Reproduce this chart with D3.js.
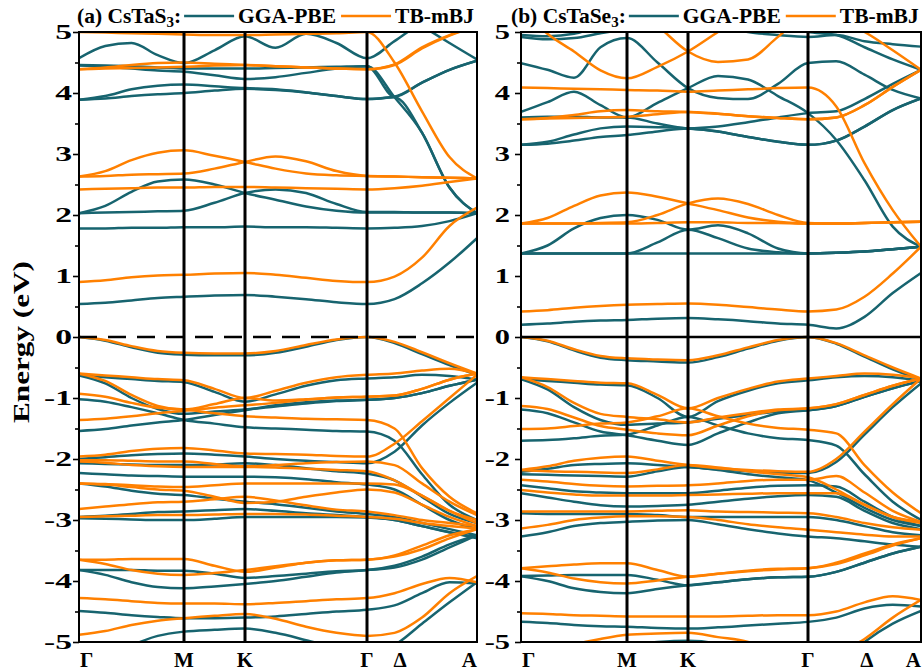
<!DOCTYPE html>
<html>
<head>
<meta charset="utf-8">
<script src="https://cdn.jsdelivr.net/npm/d3@7"></script>
<style>
  body { margin: 0; background: #fff; }
  svg { display: block; }
  text { font-family: "Liberation Serif", "Times New Roman", serif; font-weight: bold; fill: #000; }
</style>
</head>
<body>
<svg id="chart" width="922" height="672"></svg>
<script>
// k-path sample positions: Γ=0, M=1, K=2, Γ=3, A=4
const kGrid = [0, 0.25, 0.5, 0.75, 1, 1.5, 2, 2.25, 2.5, 2.75, 3, 3.25, 3.5, 3.75, 4];
const kNodeLabels = ["Γ", "M", "K", "Γ", "A"];
const energyTicks = [-5, -4, -3, -2, -1, 0, 1, 2, 3, 4, 5];
const energyMinorTicks = [-4.5, -3.5, -2.5, -1.5, -0.5, 0.5, 1.5, 2.5, 3.5, 4.5];

// CsTaS3, GGA-PBE bands (eV) on kGrid
const csTaS3Gga = [
  [0.54,0.56,0.60,0.64,0.66,0.68,0.69,0.66,0.62,0.57,0.54,0.62,0.88,1.22,1.62],
  [1.78,1.78,1.79,1.79,1.80,1.80,1.81,1.80,1.80,1.79,1.78,1.79,1.82,1.90,2.03],
  [2.03,2.15,2.38,2.55,2.58,2.50,2.36,2.25,2.14,2.07,2.04,2.04,2.04,2.04,2.03],
  [2.03,2.04,2.05,2.06,2.07,2.20,2.36,2.42,2.36,2.18,2.05,2.05,2.04,2.04,2.03],
  [3.89,3.91,3.95,3.98,4.00,4.04,4.07,4.05,4.01,3.95,3.90,3.94,4.17,4.38,4.53],
  [3.89,3.95,4.06,4.12,4.14,4.11,4.08,4.06,4.01,3.95,3.90,3.93,3.35,2.45,2.03],
  [4.45,4.43,4.40,4.37,4.35,4.29,4.23,4.26,4.33,4.40,4.44,3.94,4.17,4.38,4.53],
  [4.46,4.45,4.44,4.42,4.40,4.40,4.40,4.41,4.42,4.43,4.44,3.93,3.35,2.45,2.03],
  [4.57,4.77,4.82,4.62,4.49,4.70,4.93,4.74,4.97,4.82,4.57,4.85,5.15,5.30,5.30],
  [5.40,5.40,5.40,5.40,5.40,5.40,5.40,5.40,5.40,5.40,5.40,5.40,5.10,4.82,4.55],
  [0.00,-0.06,-0.17,-0.26,-0.29,-0.30,-0.30,-0.26,-0.16,-0.05,0.00,-0.10,-0.28,-0.46,-0.62],
  [-0.63,-0.66,-0.69,-0.72,-0.74,-0.90,-1.06,-0.94,-0.80,-0.71,-0.68,-0.66,-0.62,-0.64,-0.70],
  [-0.63,-0.76,-1.00,-1.18,-1.26,-1.22,-1.19,-1.14,-1.09,-1.05,-1.03,-1.00,-0.92,-0.80,-0.70],
  [-1.02,-1.06,-1.15,-1.25,-1.36,-1.42,-1.48,-1.50,-1.52,-1.54,-1.55,-1.70,-2.25,-2.75,-3.00],
  [-1.54,-1.51,-1.45,-1.40,-1.36,-1.28,-1.20,-1.12,-1.07,-1.04,-1.03,-1.00,-0.92,-0.80,-0.70],
  [-2.00,-1.97,-1.94,-1.92,-1.91,-1.93,-1.96,-2.00,-2.03,-2.05,-2.07,-1.88,-1.45,-1.08,-0.75],
  [-2.07,-2.08,-2.09,-2.10,-2.10,-2.09,-2.07,-2.10,-2.15,-2.20,-2.24,-2.35,-2.62,-2.90,-3.05],
  [-2.23,-2.25,-2.27,-2.28,-2.29,-2.29,-2.29,-2.30,-2.33,-2.38,-2.42,-2.50,-2.75,-3.00,-3.15],
  [-2.40,-2.45,-2.52,-2.57,-2.59,-2.65,-2.70,-2.74,-2.80,-2.86,-2.90,-2.95,-3.05,-3.15,-3.25],
  [-2.95,-2.93,-2.90,-2.87,-2.86,-2.84,-2.82,-2.85,-2.89,-2.92,-2.95,-3.00,-3.10,-3.20,-3.28],
  [-2.97,-2.98,-2.99,-3.00,-3.00,-2.98,-2.95,-2.95,-2.95,-2.95,-2.96,-3.00,-3.10,-3.20,-3.30],
  [-3.82,-3.82,-3.82,-3.83,-3.83,-3.88,-3.95,-3.92,-3.88,-3.84,-3.82,-3.75,-3.60,-3.40,-3.25],
  [-3.82,-3.90,-4.02,-4.10,-4.12,-4.09,-4.05,-4.00,-3.93,-3.86,-3.82,-3.78,-3.65,-3.45,-3.25],
  [-4.49,-4.52,-4.56,-4.59,-4.61,-4.61,-4.60,-4.58,-4.54,-4.50,-4.47,-4.40,-4.20,-4.02,-4.04],
  [-5.30,-5.20,-5.05,-4.90,-4.83,-4.80,-4.78,-4.85,-4.97,-5.10,-5.20,-5.05,-4.70,-4.35,-4.02]
];

// CsTaS3, TB-mBJ bands (eV)
const csTaS3Mbj = [
  [0.90,0.93,0.98,1.01,1.02,1.04,1.05,1.02,0.97,0.92,0.90,0.99,1.30,1.82,2.12],
  [2.42,2.43,2.44,2.45,2.45,2.46,2.46,2.45,2.44,2.43,2.42,2.44,2.48,2.54,2.60],
  [2.63,2.72,2.90,3.02,3.06,2.97,2.87,2.76,2.68,2.65,2.64,2.63,2.62,2.61,2.60],
  [2.63,2.64,2.66,2.67,2.68,2.76,2.87,2.96,2.88,2.72,2.64,2.63,2.62,2.61,2.60],
  [4.39,4.42,4.46,4.49,4.50,4.48,4.46,4.44,4.42,4.40,4.39,4.47,4.75,4.95,5.10],
  [4.39,4.40,4.41,4.42,4.43,4.45,4.46,4.44,4.42,4.40,4.39,4.46,4.73,4.94,5.10],
  [5.00,4.99,4.98,4.97,4.96,4.95,4.95,4.96,4.97,4.98,5.00,4.50,3.70,2.95,2.60],
  [0.00,-0.05,-0.15,-0.23,-0.26,-0.27,-0.27,-0.23,-0.13,-0.04,0.00,-0.08,-0.25,-0.43,-0.60],
  [-0.60,-0.63,-0.66,-0.69,-0.71,-0.85,-1.00,-0.88,-0.75,-0.66,-0.62,-0.60,-0.55,-0.52,-0.60],
  [-0.60,-0.72,-0.95,-1.13,-1.19,-1.10,-1.00,-1.04,-1.02,-0.99,-0.98,-0.96,-0.85,-0.70,-0.60],
  [-0.93,-0.98,-1.08,-1.16,-1.19,-1.25,-1.30,-1.32,-1.34,-1.35,-1.36,-1.50,-2.15,-2.62,-2.89],
  [-1.36,-1.34,-1.30,-1.25,-1.21,-1.16,-1.12,-1.08,-1.03,-0.99,-0.98,-0.96,-0.85,-0.70,-0.60],
  [-1.96,-1.93,-1.87,-1.83,-1.82,-1.86,-1.91,-1.92,-1.93,-1.95,-1.96,-1.75,-1.38,-1.00,-0.62],
  [-2.02,-2.02,-2.03,-2.04,-2.04,-2.08,-2.12,-2.10,-2.07,-2.05,-2.04,-2.10,-2.40,-2.70,-2.92],
  [-2.04,-2.06,-2.10,-2.12,-2.13,-2.13,-2.13,-2.14,-2.16,-2.18,-2.20,-2.35,-2.60,-2.85,-3.00],
  [-2.40,-2.41,-2.43,-2.45,-2.46,-2.43,-2.40,-2.40,-2.40,-2.40,-2.40,-2.42,-2.60,-2.85,-3.05],
  [-2.40,-2.42,-2.46,-2.50,-2.52,-2.62,-2.72,-2.70,-2.62,-2.55,-2.50,-2.55,-2.75,-2.95,-3.10],
  [-2.82,-2.78,-2.74,-2.71,-2.70,-2.66,-2.62,-2.68,-2.76,-2.83,-2.86,-2.92,-3.00,-3.05,-3.10],
  [-2.95,-2.94,-2.93,-2.92,-2.92,-2.91,-2.90,-2.90,-2.91,-2.93,-2.95,-2.98,-3.05,-3.10,-3.14],
  [-3.65,-3.65,-3.64,-3.64,-3.64,-3.75,-3.85,-3.78,-3.70,-3.66,-3.65,-3.58,-3.42,-3.25,-3.15],
  [-3.65,-3.72,-3.82,-3.88,-3.90,-3.87,-3.82,-3.76,-3.70,-3.66,-3.65,-3.60,-3.48,-3.30,-3.15],
  [-4.28,-4.30,-4.33,-4.36,-4.37,-4.37,-4.38,-4.36,-4.33,-4.30,-4.28,-4.20,-4.05,-3.95,-4.02],
  [-4.88,-4.82,-4.72,-4.65,-4.61,-4.57,-4.54,-4.62,-4.75,-4.85,-4.90,-4.85,-4.60,-4.20,-3.92]
];

// CsTaSe3, GGA-PBE bands (eV)
const csTaSe3Gga = [
  [0.20,0.22,0.25,0.27,0.28,0.30,0.31,0.29,0.26,0.22,0.20,0.14,0.33,0.72,1.05],
  [1.37,1.37,1.37,1.37,1.37,1.37,1.37,1.37,1.37,1.37,1.37,1.38,1.40,1.44,1.48],
  [1.37,1.50,1.78,1.95,2.00,1.92,1.76,1.83,1.70,1.45,1.37,1.38,1.40,1.44,1.48],
  [1.37,1.37,1.37,1.37,1.37,1.55,1.76,1.62,1.45,1.39,1.37,1.38,1.40,1.44,1.48],
  [3.15,3.17,3.22,3.28,3.31,3.37,3.42,3.37,3.28,3.20,3.15,3.22,3.45,3.72,3.91],
  [3.15,3.20,3.32,3.42,3.45,3.44,3.42,3.37,3.28,3.20,3.15,3.22,3.45,3.72,3.91],
  [3.60,3.61,3.61,3.60,3.60,3.50,3.42,3.45,3.52,3.60,3.67,3.70,3.90,4.15,4.38],
  [3.69,3.85,4.02,3.80,3.60,3.84,4.08,4.28,4.22,3.95,3.67,3.23,2.57,1.81,1.48],
  [4.49,4.38,4.25,4.75,4.90,4.50,4.08,3.92,3.90,4.15,4.49,4.52,4.30,4.05,3.91],
  [4.92,4.88,4.90,4.98,5.05,5.10,5.20,5.10,5.00,4.95,4.92,4.95,4.85,4.80,4.76],
  [4.95,4.93,4.97,5.10,5.20,5.20,5.20,5.20,5.20,5.10,5.00,4.95,4.75,4.55,4.38],
  [0.00,-0.07,-0.22,-0.34,-0.38,-0.40,-0.42,-0.33,-0.19,-0.06,0.00,-0.11,-0.32,-0.53,-0.70],
  [-0.69,-0.72,-0.75,-0.78,-0.79,-1.00,-1.31,-1.05,-0.88,-0.76,-0.71,-0.66,-0.64,-0.66,-0.72],
  [-0.69,-0.86,-1.15,-1.36,-1.44,-1.42,-1.40,-1.34,-1.28,-1.22,-1.20,-1.13,-0.98,-0.84,-0.72],
  [-1.19,-1.25,-1.40,-1.55,-1.61,-1.70,-1.77,-1.58,-1.40,-1.25,-1.20,-1.13,-0.98,-0.84,-0.72],
  [-1.70,-1.69,-1.66,-1.62,-1.60,-1.45,-1.31,-1.45,-1.58,-1.66,-1.69,-1.78,-2.25,-2.70,-3.00],
  [-2.21,-2.16,-2.10,-2.08,-2.07,-2.10,-2.13,-2.17,-2.20,-2.22,-2.23,-2.05,-1.60,-1.15,-0.76],
  [-2.25,-2.26,-2.27,-2.28,-2.29,-2.20,-2.13,-2.18,-2.25,-2.30,-2.35,-2.55,-2.80,-3.00,-3.10],
  [-2.43,-2.48,-2.53,-2.55,-2.56,-2.56,-2.56,-2.52,-2.47,-2.44,-2.43,-2.45,-2.70,-2.95,-3.10],
  [-2.56,-2.63,-2.70,-2.76,-2.78,-2.77,-2.75,-2.70,-2.65,-2.61,-2.59,-2.62,-2.85,-3.05,-3.15],
  [-2.89,-2.90,-2.90,-2.90,-2.90,-2.92,-2.95,-2.95,-2.95,-2.95,-2.95,-3.00,-3.10,-3.20,-3.25],
  [-3.27,-3.20,-3.10,-3.05,-3.03,-3.01,-3.00,-3.07,-3.15,-3.22,-3.27,-3.30,-3.35,-3.40,-3.44],
  [-3.92,-3.91,-3.90,-3.90,-3.90,-3.98,-4.07,-4.02,-3.97,-3.94,-3.93,-3.85,-3.70,-3.55,-3.44],
  [-3.92,-4.00,-4.12,-4.18,-4.20,-4.13,-4.07,-4.02,-3.97,-3.94,-3.93,-3.85,-3.70,-3.55,-3.44],
  [-4.67,-4.69,-4.72,-4.74,-4.75,-4.77,-4.78,-4.76,-4.73,-4.70,-4.67,-4.60,-4.45,-4.39,-4.42],
  [-5.50,-5.40,-5.20,-5.10,-5.05,-5.00,-4.98,-5.03,-5.20,-5.40,-5.50,-5.40,-5.00,-4.70,-4.49]
];

// CsTaSe3, TB-mBJ bands (eV)
const csTaSe3Mbj = [
  [0.42,0.44,0.48,0.51,0.53,0.54,0.55,0.53,0.49,0.45,0.42,0.45,0.66,1.04,1.48],
  [1.86,1.86,1.86,1.86,1.86,1.87,1.88,1.88,1.87,1.87,1.86,1.86,1.87,1.88,1.89],
  [1.86,1.95,2.15,2.32,2.37,2.30,2.19,2.08,1.96,1.89,1.86,1.86,1.87,1.88,1.89],
  [1.86,1.86,1.86,1.87,1.88,2.00,2.19,2.27,2.18,2.00,1.87,1.86,1.87,1.88,1.89],
  [3.57,3.59,3.64,3.70,3.72,3.70,3.69,3.66,3.62,3.59,3.57,3.60,3.80,4.10,4.38],
  [3.57,3.58,3.59,3.60,3.61,3.65,3.69,3.66,3.62,3.59,3.57,3.60,3.80,4.10,4.38],
  [4.09,4.08,4.07,4.06,4.05,4.04,4.02,4.04,4.06,4.08,4.09,3.78,2.85,2.08,1.48],
  [5.40,4.97,4.68,4.37,4.24,4.43,4.68,5.00,5.30,5.50,5.50,5.50,5.50,5.50,5.50],
  [5.50,5.50,5.50,5.50,5.45,5.10,4.68,4.51,4.55,4.92,5.30,5.20,5.00,4.70,4.38],
  [0.00,-0.06,-0.20,-0.31,-0.35,-0.37,-0.38,-0.30,-0.17,-0.05,0.00,-0.10,-0.30,-0.50,-0.68],
  [-0.66,-0.69,-0.72,-0.75,-0.76,-0.95,-1.17,-1.00,-0.85,-0.73,-0.68,-0.64,-0.60,-0.62,-0.68],
  [-0.66,-0.82,-1.08,-1.26,-1.31,-1.35,-1.40,-1.32,-1.25,-1.19,-1.17,-1.10,-0.95,-0.80,-0.68],
  [-1.13,-1.18,-1.32,-1.46,-1.52,-1.58,-1.61,-1.45,-1.30,-1.20,-1.17,-1.10,-0.95,-0.80,-0.68],
  [-1.51,-1.50,-1.46,-1.42,-1.40,-1.30,-1.17,-1.30,-1.42,-1.49,-1.52,-1.58,-2.10,-2.55,-2.89],
  [-2.18,-2.12,-2.03,-1.98,-1.96,-2.03,-2.10,-2.15,-2.18,-2.20,-2.21,-2.00,-1.55,-1.10,-0.68],
  [-2.18,-2.20,-2.21,-2.22,-2.23,-2.17,-2.10,-2.14,-2.20,-2.25,-2.30,-2.50,-2.75,-2.95,-3.03],
  [-2.34,-2.37,-2.41,-2.44,-2.45,-2.44,-2.43,-2.40,-2.36,-2.34,-2.34,-2.28,-2.55,-2.85,-3.03],
  [-2.51,-2.55,-2.58,-2.60,-2.60,-2.60,-2.59,-2.58,-2.57,-2.56,-2.56,-2.56,-2.75,-2.95,-3.05],
  [-2.86,-2.86,-2.86,-2.86,-2.86,-2.85,-2.84,-2.86,-2.87,-2.88,-2.89,-2.95,-3.05,-3.12,-3.16],
  [-3.14,-3.08,-3.00,-2.96,-2.94,-2.94,-2.95,-3.00,-3.07,-3.12,-3.16,-3.20,-3.24,-3.27,-3.27],
  [-3.79,-3.76,-3.73,-3.71,-3.71,-3.82,-3.93,-3.88,-3.83,-3.80,-3.79,-3.70,-3.55,-3.40,-3.30],
  [-3.79,-3.86,-3.96,-4.02,-4.04,-3.99,-3.93,-3.88,-3.84,-3.81,-3.79,-3.72,-3.58,-3.42,-3.30],
  [-4.53,-4.54,-4.56,-4.57,-4.58,-4.58,-4.58,-4.58,-4.57,-4.56,-4.56,-4.50,-4.35,-4.25,-4.31],
  [-5.50,-5.30,-5.05,-4.95,-4.88,-4.86,-4.85,-4.92,-5.00,-5.30,-5.50,-5.20,-4.95,-4.60,-4.31]
];

const ggaColor = "#17646f";
const mbjColor = "#ff8000";

const panels = [
  { key: "a", label: "(a) CsTaS", sub: "3", gga: csTaS3Gga, mbj: csTaS3Mbj,
    nodes: [79, 184, 245, 367, 477], deltaAt: 3.3, dashedFermi: true,
    tickGap: 7, tickStretch: 1.6, titleX: 77 },
  { key: "b", label: "(b) CsTaSe", sub: "3", gga: csTaSe3Gga, mbj: csTaSe3Mbj,
    nodes: [521, 627, 688, 808, 921], deltaAt: 3.52, dashedFermi: false,
    tickGap: 11, tickStretch: 1.45, titleX: 511 }
];

const svg = d3.select("#chart");
const yTop = 32, yBottom = 642;
const y = d3.scaleLinear().domain([-5, 5]).range([yBottom, yTop]);
const titleSize = 21.5;

panels.forEach(p => {
  const x = d3.scaleLinear().domain([0, 1, 2, 3, 4]).range(p.nodes);
  const g = svg.append("g").attr("class", "panel-" + p.key);
  const x0 = p.nodes[0], x1 = p.nodes[4];

  g.append("clipPath").attr("id", "clip-" + p.key)
    .append("rect").attr("x", x0).attr("y", yTop).attr("width", x1 - x0).attr("height", yBottom - yTop);

  const plot = g.append("g").attr("clip-path", `url(#clip-${p.key})`);

  const line = d3.line()
    .x((d, i) => x(kGrid[i]))
    .y(d => y(d))
    .curve(d3.curveMonotoneX);

  plot.selectAll("path.gga").data(p.gga).join("path")
    .attr("class", "gga").attr("d", line)
    .attr("fill", "none").attr("stroke", ggaColor).attr("stroke-width", 2.5)
    .attr("stroke-linejoin", "round");

  plot.selectAll("path.mbj").data(p.mbj).join("path")
    .attr("class", "mbj").attr("d", line)
    .attr("fill", "none").attr("stroke", mbjColor).attr("stroke-width", 2.5)
    .attr("stroke-linejoin", "round");

  // Fermi level
  plot.append("line")
    .attr("x1", x0).attr("x2", x1).attr("y1", y(0)).attr("y2", y(0))
    .attr("stroke", "#000").attr("stroke-width", 2.5)
    .attr("stroke-dasharray", p.dashedFermi ? "18,11" : null);

  // high-symmetry verticals
  g.selectAll("line.hs").data([1, 2, 3]).join("line")
    .attr("class", "hs")
    .attr("x1", d => x(d)).attr("x2", d => x(d))
    .attr("y1", yTop).attr("y2", yBottom)
    .attr("stroke", "#000").attr("stroke-width", 3);

  // frame
  g.append("rect")
    .attr("x", x0).attr("y", yTop).attr("width", x1 - x0).attr("height", yBottom - yTop)
    .attr("fill", "none").attr("stroke", "#000").attr("stroke-width", 2);

  // y axis: majors with (horizontally widened) labels, minors without
  const yAxis = g.append("g").attr("transform", `translate(${x0},0)`)
    .call(d3.axisLeft(y).tickValues(energyTicks).tickSize(6)
      .tickFormat(d => String(d)));
  yAxis.select(".domain").remove();
  yAxis.selectAll("line").attr("stroke", "#000").attr("stroke-width", 1.6);
  yAxis.selectAll("text")
    .attr("font-size", 21)
    .attr("x", -p.tickGap / p.tickStretch)
    .attr("transform", `scale(${p.tickStretch},1)`)
    .style("font-family", '"Liberation Serif", "Times New Roman", serif')
    .style("font-weight", "bold");

  const yMinor = g.append("g").attr("transform", `translate(${x0},0)`)
    .call(d3.axisLeft(y).tickValues(energyMinorTicks).tickSize(4).tickFormat(""));
  yMinor.select(".domain").remove();
  yMinor.selectAll("line").attr("stroke", "#000").attr("stroke-width", 1.6);

  // k-point labels
  const kLabels = [
    { t: kNodeLabels[0], u: 0, anchor: "start", dx: 1 },
    { t: kNodeLabels[1], u: 1, anchor: "middle", dx: 0 },
    { t: kNodeLabels[2], u: 2, anchor: "middle", dx: 0 },
    { t: kNodeLabels[3], u: 3, anchor: "middle", dx: 0 },
    { t: "Δ", u: p.deltaAt, anchor: "middle", dx: 0 },
    { t: kNodeLabels[4], u: 4, anchor: "end", dx: 0 }
  ];
  g.selectAll("text.klab").data(kLabels).join("text")
    .attr("class", "klab")
    .attr("x", d => x(d.u) + d.dx).attr("y", 667)
    .attr("text-anchor", d => d.anchor)
    .attr("font-size", 21)
    .text(d => d.t);

  // title with inline legend
  const title = g.append("text").attr("x", p.titleX).attr("y", 23).attr("font-size", titleSize);
  title.append("tspan").text(p.label);
  title.append("tspan").attr("font-size", 15).attr("dy", 4).text(p.sub);
  title.append("tspan").attr("dy", -4).text(":");
  let cx = p.titleX + title.node().getComputedTextLength() + 3;

  const entries = [{ name: "GGA-PBE", color: ggaColor }, { name: "TB-mBJ", color: mbjColor }];
  entries.forEach(e => {
    g.append("line").attr("x1", cx).attr("x2", cx + 50).attr("y1", 16).attr("y2", 16)
      .attr("stroke", e.color).attr("stroke-width", 2.5);
    const t = g.append("text").attr("x", cx + 54).attr("y", 23).attr("font-size", titleSize).text(e.name);
    cx = cx + 54 + t.node().getComputedTextLength() + 5;
  });
});

// shared energy axis title (widened along its length)
svg.append("text")
  .attr("transform", "translate(29,342) rotate(-90) scale(1.3,1)")
  .attr("text-anchor", "middle")
  .attr("font-size", 24)
  .text("Energy (eV)");
</script>
</body>
</html>
